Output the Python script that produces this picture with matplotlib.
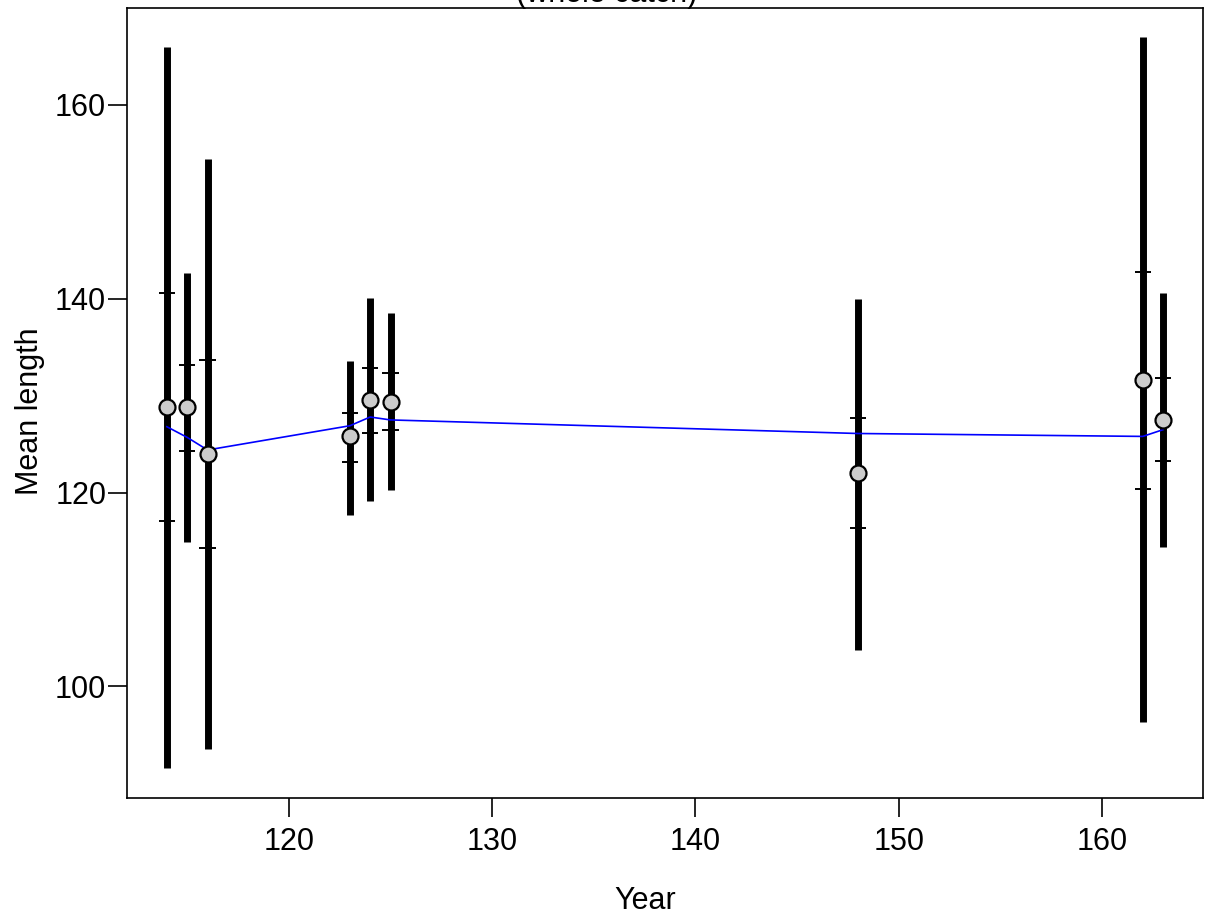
import matplotlib
matplotlib.use("Agg")
import matplotlib.pyplot as plt

plt.rcParams['font.family'] = ['Liberation Sans', 'DejaVu Sans']

# observed mean length, outer/inner intervals and expected values
years = [114, 115, 116, 123, 124, 125, 148, 162, 163]
obs = [128.8, 128.8, 124.0, 125.8, 129.6, 129.4, 122.0, 131.6, 127.5]
outer_lo = [91.6, 114.9, 93.6, 117.7, 119.1, 120.3, 103.8, 96.3, 114.4]
outer_hi = [166.0, 142.7, 154.4, 133.6, 140.1, 138.5, 140.0, 167.0, 140.6]
inner_lo = [117.1, 124.3, 114.3, 123.2, 126.2, 126.5, 116.3, 120.4, 123.3]
inner_hi = [140.6, 133.2, 133.7, 128.2, 132.9, 132.3, 127.7, 142.8, 131.8]
expected = [126.8, 125.7, 124.4, 126.9, 127.8, 127.5, 126.1, 125.8, 126.5]

fig = plt.figure(figsize=(12.06, 9.15), dpi=100)
ax = fig.add_axes([0.1053, 0.1279, 0.8922, 0.8634])

ax.vlines(years, outer_lo, outer_hi, color='black', linewidth=5.0, zorder=2)
ax.hlines(inner_lo, [y - 0.4 for y in years], [y + 0.4 for y in years],
          color='black', linewidth=1.4, zorder=2)
ax.hlines(inner_hi, [y - 0.4 for y in years], [y + 0.4 for y in years],
          color='black', linewidth=1.4, zorder=2)
ax.plot(years, expected, color='blue', linewidth=1.2, zorder=3)
ax.plot(years, obs, linestyle='none', marker='o', markersize=11.5,
        markerfacecolor='#CCCCCC', markeredgecolor='black',
        markeredgewidth=1.6, zorder=4)

ax.set_xlim(112.04, 164.96)
ax.set_ylim(88.5, 170.0)
ax.set_xticks([120, 130, 140, 150, 160])
ax.set_yticks([100, 120, 140, 160])
ax.tick_params(labelsize=22, length=14, width=1.2)
ax.tick_params(axis='x', pad=7)
ax.tick_params(axis='y', pad=1)
for s in ax.spines.values():
    s.set_linewidth(1.2)

ax.set_xlabel("Year", fontsize=22)
ax.xaxis.set_label_coords(0.482, -0.111)
ax.set_ylabel("Mean length", fontsize=22, labelpad=7)
ax.yaxis.label.set_y(0.49)

fig.text(0.503, 1 - 2.0 / 915, "(whole catch)", fontsize=22,
         ha='center', va='baseline')

fig.savefig("out.png", dpi=100)
